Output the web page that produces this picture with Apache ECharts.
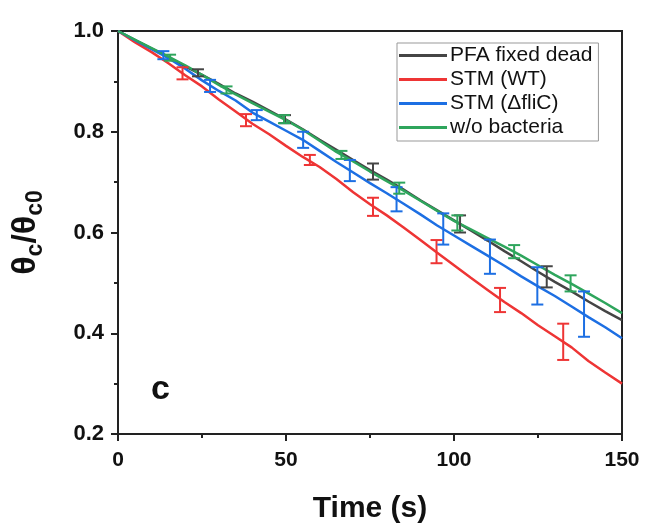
<!DOCTYPE html>
<html>
<head>
<meta charset="utf-8">
<script src="https://cdn.jsdelivr.net/npm/echarts@6/dist/echarts.min.js"></script>
<style>html,body{margin:0;padding:0;background:#fff}#c{width:645px;height:529px}</style>
</head>
<body>
<div id="c"></div>
<script>
const times = [0,5,10,15,20,25,30,35,40,45,50,55,60,65,70,75,80,85,90,95,100,105,110,115,120,125,130,135,140,145,150];
const pfaValues = [1.000,0.982,0.965,0.948,0.930,0.913,0.895,0.876,0.860,0.842,0.824,0.805,0.784,0.764,0.744,0.724,0.705,0.685,0.664,0.644,0.624,0.604,0.584,0.563,0.543,0.522,0.502,0.483,0.463,0.444,0.426];
const wtValues = [1.000,0.978,0.958,0.936,0.912,0.890,0.864,0.840,0.816,0.795,0.772,0.750,0.730,0.706,0.680,0.656,0.634,0.610,0.585,0.560,0.535,0.510,0.486,0.462,0.440,0.416,0.394,0.372,0.345,0.322,0.300];
const fliCValues = [1.000,0.982,0.964,0.946,0.925,0.902,0.881,0.862,0.838,0.820,0.802,0.784,0.762,0.740,0.719,0.698,0.678,0.657,0.636,0.614,0.594,0.574,0.554,0.534,0.513,0.493,0.474,0.453,0.432,0.412,0.390];
const noBactValues = [1.000,0.983,0.966,0.949,0.932,0.913,0.893,0.874,0.857,0.840,0.823,0.804,0.782,0.760,0.741,0.721,0.702,0.683,0.663,0.643,0.623,0.606,0.589,0.572,0.554,0.535,0.516,0.498,0.479,0.460,0.440];

// error bars: [time, center, half-range]
const pfaErr = [[23.8,0.917,0.007],[49.7,0.825,0.008],[75.9,0.721,0.016],[101.8,0.617,0.017],[127.6,0.512,0.021]];
const wtErr = [[19.2,0.916,0.012],[38.1,0.823,0.012],[57.1,0.744,0.010],[75.9,0.651,0.018],[94.8,0.562,0.023],[113.7,0.466,0.024],[132.5,0.383,0.036]];
const fliCErr = [[13.5,0.952,0.008],[27.4,0.891,0.012],[41.3,0.833,0.010],[55.1,0.784,0.016],[69.0,0.723,0.021],[82.9,0.666,0.024],[96.8,0.607,0.031],[110.7,0.552,0.034],[124.8,0.494,0.037],[138.7,0.438,0.045]];
const noBactErr = [[15.5,0.947,0.006],[32.3,0.883,0.007],[49.4,0.825,0.008],[66.5,0.754,0.008],[83.7,0.688,0.011],[101.0,0.619,0.015],[117.9,0.562,0.013],[134.7,0.499,0.016]];

const names = ['PFA fixed dead','STM (WT)','STM (\u0394fliC)','w/o bacteria'];
const colors = ['#454545','#ee3535','#1d6fe3','#2ea55c'];
const lineData = [pfaValues, wtValues, fliCValues, noBactValues];
const errData = [pfaErr, wtErr, fliCErr, noBactErr];

const FONT = 'Liberation Sans, Arial, sans-serif';
const AXC = '#222';
const series = [];
names.forEach((n, i) => {
  series.push({
    name: n, type: 'line', showSymbol: false, symbol: 'none',
    data: times.map((t, k) => [t, lineData[i][k]]),
    lineStyle: { color: colors[i], width: 2.5 }, itemStyle: { color: colors[i] },
    z: 2 + i
  });
});
names.forEach((n, i) => {
  series.push({
    name: n, type: 'custom',
    data: errData[i].map(d => [d[0], d[1] - d[2], d[1] + d[2]]),
    encode: { x: 0, y: [1, 2] },
    renderItem: function (params, api) {
      const x = api.value(0);
      const lo = api.coord([x, api.value(1)]);
      const hi = api.coord([x, api.value(2)]);
      const w = 6;
      const st = { stroke: colors[i], lineWidth: 2, fill: null };
      return { type: 'group', children: [
        { type: 'line', shape: { x1: lo[0], y1: lo[1], x2: hi[0], y2: hi[1] }, style: st },
        { type: 'line', shape: { x1: lo[0] - w, y1: lo[1], x2: lo[0] + w, y2: lo[1] }, style: st },
        { type: 'line', shape: { x1: hi[0] - w, y1: hi[1], x2: hi[0] + w, y2: hi[1] }, style: st }
      ]};
    },
    z: 6 + i
  });
});

const chart = echarts.init(document.getElementById('c'), null, { renderer: 'canvas' });
chart.setOption({
  animation: false,
  backgroundColor: '#fff',
  grid: { left: 118, right: 23, top: 31, bottom: 95, show: true, borderColor: AXC, borderWidth: 2, outerBoundsMode: 'none', containLabel: false },
  legend: {
    data: names.map((n, i) => ({ name: n, icon: 'rect', itemStyle: { color: colors[i] } })),
    orient: 'vertical', left: 397, top: 43,
    itemWidth: 48, itemHeight: 3, itemGap: 3,
    borderColor: '#999', borderWidth: 1, borderRadius: 0,
    padding: [2, 6, 3, 2],
    textStyle: { fontFamily: FONT, fontSize: 21, lineHeight: 20, color: '#111', padding: [0, 0, 0, -2] }
  },
  xAxis: {
    type: 'value', min: 0, max: 150, interval: 50,
    name: 'Time (s)', nameLocation: 'middle', nameGap: 60,
    nameTextStyle: { fontFamily: FONT, fontSize: 30, fontWeight: 'bold', color: '#111' },
    axisLine: { show: true, onZero: false, lineStyle: { color: AXC, width: 2 } },
    axisTick: { show: true, inside: false, length: 7, lineStyle: { color: AXC, width: 2 } },
    minorTick: { show: true, splitNumber: 2, length: 4, lineStyle: { color: AXC, width: 2 } },
    splitLine: { show: false },
    axisLabel: { fontFamily: FONT, fontSize: 21, fontWeight: 'bold', color: '#111', margin: 16 }
  },
  yAxis: {
    type: 'value', min: 0.2, max: 1.0, interval: 0.2,
    name: '{a|\u03b8}{s|c}{a|/\u03b8}{s|c0}', nameLocation: 'middle', nameGap: 71, nameRotate: 90,
    nameTextStyle: {
      rich: {
        a: { fontFamily: FONT, fontSize: 34, fontWeight: 'bold', color: '#111', lineHeight: 42, verticalAlign: 'middle' },
        s: { fontFamily: FONT, fontSize: 23, fontWeight: 'bold', color: '#111', lineHeight: 42, padding: [19, 0, 0, 0], verticalAlign: 'middle' }
      }
    },
    axisLine: { show: true, onZero: false, lineStyle: { color: AXC, width: 2 } },
    axisTick: { show: true, inside: false, length: 7, lineStyle: { color: AXC, width: 2 } },
    minorTick: { show: true, splitNumber: 2, length: 4, lineStyle: { color: AXC, width: 2 } },
    splitLine: { show: false },
    axisLabel: { fontFamily: FONT, fontSize: 22, fontWeight: 'bold', color: '#111', margin: 14,
      formatter: v => v.toFixed(1) }
  },
  graphic: [{
    type: 'text', left: 151, top: 373,
    style: { text: 'c', fontFamily: FONT, fontSize: 34, fontWeight: 'bold', fill: '#111' }
  }],
  series: series
});
</script>
</body>
</html>
